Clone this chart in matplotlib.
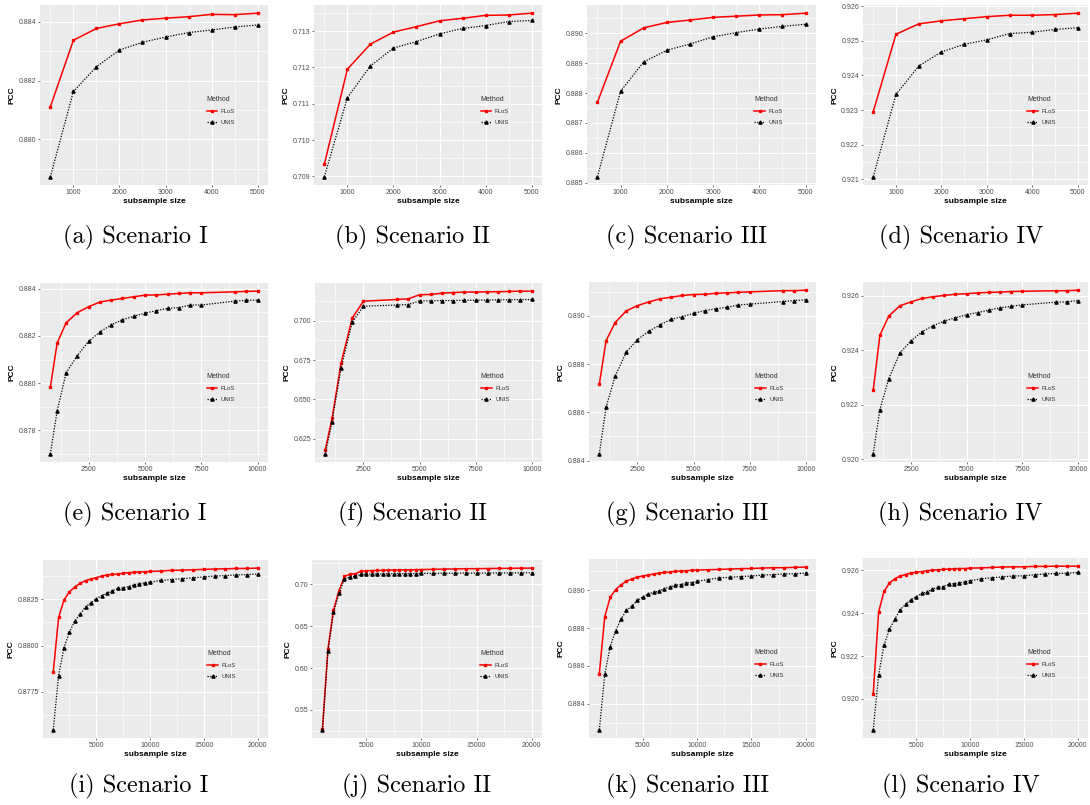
import matplotlib
matplotlib.use("Agg")
import matplotlib.pyplot as plt
from matplotlib.ticker import MultipleLocator, FormatStrFormatter

plt.rcParams['font.family'] = ['Liberation Sans', 'DejaVu Sans']

# subsample sizes
n_5k = [500, 1000, 1500, 2000, 2500, 3000, 3500, 4000, 4500, 5000]
n_10k = [800, 1100, 1500, 2000, 2500, 3000, 3500, 4000, 4500, 5000, 5500, 6000,
         6500, 7000, 7500, 9000, 9500, 10000]
n_10k_f = [800, 1100, 1500, 2000, 2500, 4000, 4500, 5000, 5500, 6000, 6500, 7000,
           7500, 8000, 8500, 9000, 9500, 10000]
n_20k = [1000, 1500, 2000, 2500, 3000, 3500, 4000, 4500, 5000, 5500, 6000, 6500,
         7000, 7500, 8000, 8500, 9000, 9500, 10000, 11000, 12000, 13000, 14000,
         15000, 16000, 17000, 18000, 19000, 20000]

# PCC, N = 5000
flos_a = [0.88111, 0.88337, 0.88377, 0.88393, 0.88406, 0.88412, 0.88417, 0.88425, 0.88424, 0.88429]
unis_a = [0.87873, 0.88163, 0.88247, 0.88304, 0.88330, 0.88348, 0.88363, 0.88372, 0.88382, 0.88389]
flos_b = [0.70934, 0.71195, 0.71264, 0.71297, 0.71312, 0.71328, 0.71335, 0.71343, 0.71344, 0.71349]
unis_b = [0.70899, 0.71117, 0.71204, 0.71253, 0.71271, 0.71292, 0.71307, 0.71315, 0.71326, 0.71329]
flos_c = [0.88769, 0.88973, 0.89018, 0.89036, 0.89044, 0.89053, 0.89057, 0.89061, 0.89062, 0.89067]
unis_c = [0.88520, 0.88806, 0.88904, 0.88943, 0.88964, 0.88988, 0.89002, 0.89014, 0.89023, 0.89030]
flos_d = [0.92295, 0.92519, 0.92549, 0.92558, 0.92564, 0.92570, 0.92574, 0.92574, 0.92576, 0.92580]
unis_d = [0.92107, 0.92345, 0.92427, 0.92468, 0.92490, 0.92503, 0.92521, 0.92525, 0.92533, 0.92538]

# PCC, N = 10000
flos_e = [0.87983, 0.88169, 0.88256, 0.88299, 0.88324, 0.88344, 0.88352, 0.88359, 0.88366,
          0.88373, 0.88374, 0.88377, 0.88380, 0.88383, 0.88383, 0.88387, 0.88389, 0.88390]
unis_e = [0.87700, 0.87881, 0.88044, 0.88117, 0.88177, 0.88217, 0.88247, 0.88269, 0.88283,
          0.88297, 0.88307, 0.88317, 0.88320, 0.88331, 0.88331, 0.88348, 0.88351, 0.88352]
flos_f = [0.6180, 0.6380, 0.6729, 0.7017, 0.7124, 0.7135, 0.7139, 0.7165, 0.7167,
          0.7175, 0.7179, 0.7182, 0.7182, 0.7184, 0.7184, 0.7186, 0.7188, 0.7188]
unis_f = [0.6154, 0.6357, 0.6699, 0.6991, 0.7092, 0.7100, 0.7103, 0.7126, 0.7126,
          0.7128, 0.7128, 0.7130, 0.7130, 0.7131, 0.7132, 0.7133, 0.7134, 0.7135]
flos_g = [0.88717, 0.88897, 0.88972, 0.89021, 0.89043, 0.89058, 0.89071, 0.89078, 0.89085,
          0.89089, 0.89090, 0.89094, 0.89096, 0.89098, 0.89100, 0.89105, 0.89105, 0.89107]
unis_g = [0.88428, 0.88621, 0.88749, 0.88850, 0.88902, 0.88936, 0.88963, 0.88986, 0.88997,
          0.89011, 0.89022, 0.89030, 0.89036, 0.89046, 0.89049, 0.89060, 0.89064, 0.89067]
flos_h = [0.92254, 0.92455, 0.92525, 0.92563, 0.92577, 0.92590, 0.92596, 0.92601, 0.92605,
          0.92607, 0.92610, 0.92612, 0.92613, 0.92615, 0.92616, 0.92618, 0.92618, 0.92620]
unis_h = [0.92020, 0.92182, 0.92296, 0.92390, 0.92434, 0.92468, 0.92490, 0.92507, 0.92519,
          0.92530, 0.92538, 0.92547, 0.92555, 0.92561, 0.92566, 0.92576, 0.92577, 0.92582]

# PCC, N = 20000
flos_i = [0.87856, 0.88152, 0.88246, 0.88291, 0.88316, 0.88337, 0.88351, 0.88360, 0.88367,
          0.88376, 0.88382, 0.88385, 0.88387, 0.88391, 0.88394, 0.88396, 0.88398, 0.88399,
          0.88401, 0.88403, 0.88407, 0.88408, 0.88410, 0.88412, 0.88414, 0.88415, 0.88417,
          0.88417, 0.88419]
unis_i = [0.87544, 0.87838, 0.87989, 0.88072, 0.88133, 0.88170, 0.88209, 0.88232, 0.88254,
          0.88270, 0.88284, 0.88296, 0.88309, 0.88312, 0.88319, 0.88327, 0.88334, 0.88339,
          0.88343, 0.88352, 0.88357, 0.88362, 0.88367, 0.88371, 0.88376, 0.88378, 0.88382,
          0.88384, 0.88387]
flos_j = [0.5273, 0.6228, 0.6694, 0.6924, 0.7095, 0.7123, 0.7127, 0.7159, 0.7163, 0.7165,
          0.7167, 0.7169, 0.7171, 0.7172, 0.7173, 0.7174, 0.7175, 0.7176, 0.7177, 0.7180,
          0.7183, 0.7185, 0.7187, 0.7188, 0.7190, 0.7191, 0.7192, 0.7194, 0.7195]
unis_j = [0.5261, 0.6200, 0.6666, 0.6893, 0.7064, 0.7091, 0.7095, 0.7119, 0.7123, 0.7124,
          0.7125, 0.7126, 0.7127, 0.7128, 0.7128, 0.7129, 0.7130, 0.7130, 0.7131, 0.7132,
          0.7133, 0.7134, 0.7135, 0.7135, 0.7136, 0.7137, 0.7137, 0.7138, 0.7139]
flos_k = [0.88558, 0.88860, 0.88962, 0.89003, 0.89028, 0.89049, 0.89059, 0.89070, 0.89075,
          0.89080, 0.89086, 0.89091, 0.89094, 0.89096, 0.89100, 0.89101, 0.89103, 0.89105,
          0.89107, 0.89108, 0.89110, 0.89112, 0.89114, 0.89115, 0.89117, 0.89119, 0.89119,
          0.89121, 0.89122]
unis_k = [0.88262, 0.88555, 0.88702, 0.88786, 0.88848, 0.88893, 0.88916, 0.88946, 0.88965,
          0.88981, 0.88988, 0.88995, 0.89009, 0.89017, 0.89026, 0.89030, 0.89038, 0.89040,
          0.89047, 0.89056, 0.89065, 0.89068, 0.89072, 0.89075, 0.89080, 0.89082, 0.89086,
          0.89087, 0.89091]
flos_l = [0.92022, 0.92405, 0.92502, 0.92541, 0.92561, 0.92574, 0.92581, 0.92588, 0.92592,
          0.92595, 0.92598, 0.92602, 0.92603, 0.92605, 0.92606, 0.92608, 0.92609, 0.92609,
          0.92611, 0.92612, 0.92614, 0.92616, 0.92617, 0.92617, 0.92619, 0.92619, 0.92620,
          0.92620, 0.92620]
unis_l = [0.91855, 0.92112, 0.92250, 0.92324, 0.92372, 0.92417, 0.92441, 0.92464, 0.92477,
          0.92493, 0.92499, 0.92513, 0.92521, 0.92525, 0.92535, 0.92539, 0.92542, 0.92547,
          0.92552, 0.92561, 0.92566, 0.92570, 0.92574, 0.92575, 0.92580, 0.92584, 0.92586,
          0.92587, 0.92591]

captions = ["(a) Scenario I", "(b) Scenario II", "(c) Scenario III", "(d) Scenario IV",
            "(e) Scenario I", "(f) Scenario II", "(g) Scenario III", "(h) Scenario IV",
            "(i) Scenario I", "(j) Scenario II", "(k) Scenario III", "(l) Scenario IV"]

W, H = 1090, 805
fig = plt.figure(figsize=(W / 100, H / 100), dpi=100)

# (x, flos, unis, y tick step, y format, x tick step, panel box px [l, r, top, bottom], caption xy px)
panels = [
    (n_5k, flos_a, unis_a, 0.002, '%.3f', 1000, (40, 268, 5, 185), (135, 237)),
    (n_5k, flos_b, unis_b, 0.001, '%.3f', 1000, (314, 542, 5, 185), (412, 237)),
    (n_5k, flos_c, unis_c, 0.001, '%.3f', 1000, (587, 816, 5, 185), (687, 237)),
    (n_5k, flos_d, unis_d, 0.001, '%.3f', 1000, (863, 1088, 5, 185), (961, 237)),
    (n_10k, flos_e, unis_e, 0.002, '%.3f', 2500, (40, 268, 283, 462), (135, 514)),
    (n_10k_f, flos_f, unis_f, 0.025, '%.3f', 2500, (315, 542, 283, 462), (412, 514)),
    (n_10k, flos_g, unis_g, 0.002, '%.3f', 2500, (589, 816, 282, 462), (687, 514)),
    (n_10k, flos_h, unis_h, 0.002, '%.3f', 2500, (863, 1088, 282, 462), (960, 514)),
    (n_20k, flos_i, unis_i, 0.0025, '%.4f', 5000, (43, 268, 560, 738), (139, 786)),
    (n_20k, flos_j, unis_j, 0.05, '%.2f', 5000, (312, 542, 560, 738), (417, 786)),
    (n_20k, flos_k, unis_k, 0.002, '%.3f', 5000, (589, 816, 559, 738), (688, 786)),
    (n_20k, flos_l, unis_l, 0.002, '%.3f', 5000, (863, 1088, 558, 738), (961, 786)),
]

for (x, flos, unis, ystep, yfmt, xstep, box, cap), label in zip(panels, captions):
    l, r, t, b = box
    ax = fig.add_axes([l / W, 1 - b / H, (r - l) / W, (b - t) / H])
    ax.set_facecolor('#EBEBEB')
    for s in ax.spines.values():
        s.set_visible(False)

    ax.plot(x, flos, color='red', lw=1.1, marker='s', ms=2.0, label='FLoS', zorder=3)
    ax.plot(x, unis, color='black', lw=0.9, ls=(0, (1, 1.2)), marker='^', ms=2.3,
            label='UNIS', zorder=3)

    # ggplot-style 5% expansion
    lo = min(min(flos), min(unis))
    hi = max(max(flos), max(unis))
    pad = (hi - lo) * 0.05
    ax.set_ylim(lo - pad, hi + pad)
    xpad = (x[-1] - x[0]) * 0.05
    ax.set_xlim(x[0] - xpad, x[-1] + xpad)

    ax.yaxis.set_major_locator(MultipleLocator(ystep))
    ax.yaxis.set_minor_locator(MultipleLocator(ystep / 2))
    ax.xaxis.set_major_locator(MultipleLocator(xstep))
    ax.xaxis.set_minor_locator(MultipleLocator(xstep / 2))
    ax.yaxis.set_major_formatter(FormatStrFormatter(yfmt))
    ax.xaxis.set_major_formatter(FormatStrFormatter('%d'))

    ax.grid(which='major', color='white', lw=0.85)
    ax.grid(which='minor', color='white', lw=0.45)
    ax.set_axisbelow(True)
    ax.tick_params(which='major', length=1.6, width=0.5, color='#333333',
                   labelsize=5.0, labelcolor='#4D4D4D', pad=1.2)
    ax.tick_params(which='minor', length=0)

    ax.set_xlabel('subsample size', fontsize=6, fontweight='bold', labelpad=1.5)
    ax.set_ylabel('PCC', fontsize=6, fontweight='bold', labelpad=2)

    leg = ax.legend(loc='upper left', bbox_to_anchor=(0.72, 0.51), frameon=False,
                    title='Method', fontsize=4.3, title_fontsize=5, handlelength=1.8,
                    handletextpad=0.6, labelspacing=1.0, alignment='left',
                    borderaxespad=0)
    leg.get_title().set_color('#333333')
    for txt in leg.get_texts():
        txt.set_color('#333333')

    fig.text(cap[0] / W, 1 - cap[1] / H, label, fontsize=17.5, family='cmr10',
             ha='center', va='center')

fig.savefig('out.png', dpi=100)
